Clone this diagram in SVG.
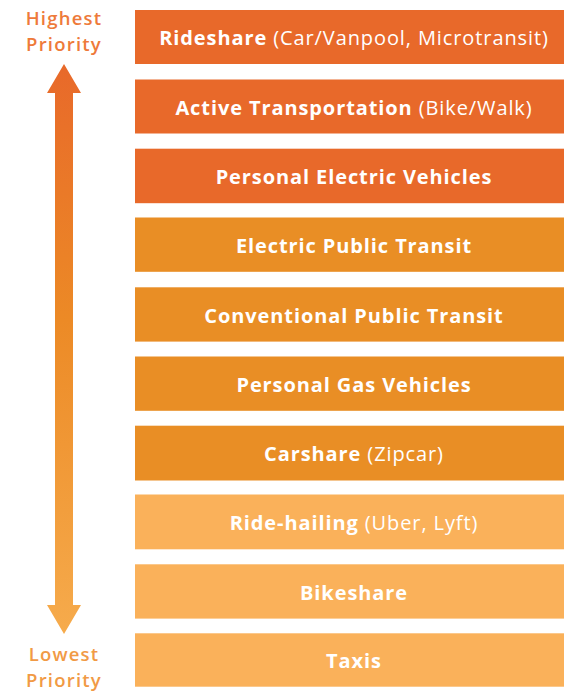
<svg xmlns="http://www.w3.org/2000/svg" width="564" height="693" viewBox="0 0 564 693">
<defs>
<linearGradient id="ag" x1="0" y1="64" x2="0" y2="634" gradientUnits="userSpaceOnUse">
<stop offset="0" stop-color="#E8692A"/>
<stop offset="0.45" stop-color="#EC8A26"/>
<stop offset="1" stop-color="#F6AB4C"/>
</linearGradient>
<style>
.b{fill:#FFFFFF;font-family:"Open Sans","Liberation Sans",sans-serif;font-size:20px;font-weight:700;letter-spacing:0.9px;text-anchor:middle}
.p{font-weight:500}
.c1{fill:#E8692A}
.c2{fill:#E98E25}
.c3{fill:#FAB15A}
.lab{font-family:"Open Sans","Liberation Sans",sans-serif;font-size:18.5px;font-weight:600;letter-spacing:1.2px;text-anchor:middle}
</style>
</defs>
<rect width="564" height="693" fill="#FFFFFF"/>
<g id="arrow">
<path d="M64,64 L81,93 L73,93 L73,605 L81,605 L64,634 L47,605 L55,605 L55,93 L47,93 Z" fill="url(#ag)"/>
</g>
<g id="label-high">
<text class="lab" x="64" y="25" fill="#EE7A3A">Highest</text>
<text class="lab" x="64" y="51" fill="#EE7A3A">Priority</text>
</g>
<g id="label-low">
<text class="lab" x="64" y="661" fill="#F19A45">Lowest</text>
<text class="lab" x="64" y="687" fill="#F19A45">Priority</text>
</g>
<g id="n1"><rect class="c1" x="135" y="10" width="429" height="54"/><text class="b" x="354" y="45">Rideshare <tspan class="p">(Car/Vanpool, Microtransit)</tspan></text></g>
<g id="n2"><rect class="c1" x="135" y="79.5" width="429" height="54"/><text class="b" x="354" y="114.5">Active Transportation <tspan class="p">(Bike/Walk)</tspan></text></g>
<g id="n3"><rect class="c1" x="135" y="148.7" width="429" height="54.5"/><text class="b" x="354" y="184">Personal Electric Vehicles</text></g>
<g id="n4"><rect class="c2" x="135" y="217.5" width="429" height="54.3"/><text class="b" x="354" y="253">Electric Public Transit</text></g>
<g id="n5"><rect class="c2" x="135" y="287.3" width="429" height="54.3"/><text class="b" x="354" y="322.5">Conventional Public Transit</text></g>
<g id="n6"><rect class="c2" x="135" y="356.5" width="429" height="54.3"/><text class="b" x="354" y="391.5">Personal Gas Vehicles</text></g>
<g id="n7"><rect class="c2" x="135" y="425.7" width="429" height="54.8"/><text class="b" x="354" y="461">Carshare <tspan class="p">(Zipcar)</tspan></text></g>
<g id="n8"><rect class="c3" x="135" y="494.5" width="429" height="54.8"/><text class="b" x="354" y="530">Ride-hailing <tspan class="p">(Uber, Lyft)</tspan></text></g>
<g id="n9"><rect class="c3" x="135" y="564.3" width="429" height="54.3"/><text class="b" x="354" y="599.5">Bikeshare</text></g>
<g id="n10"><rect class="c3" x="135" y="633.3" width="429" height="53.4"/><text class="b" x="354" y="668.3">Taxis</text></g>
<g id="connectors"/>
</svg>
